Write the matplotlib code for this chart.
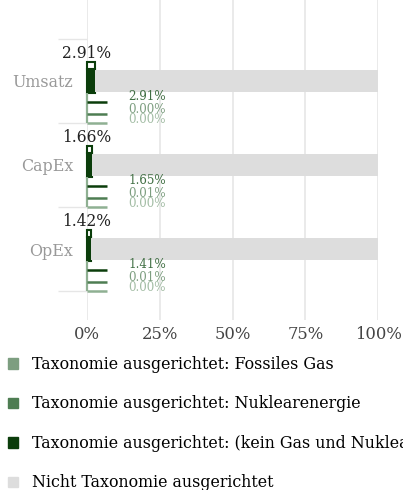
import matplotlib
matplotlib.use("Agg")
import matplotlib.pyplot as plt
from matplotlib.patches import Patch

categories = ["Umsatz", "CapEx", "OpEx"]
gas = [0.00, 0.00, 0.00]
nuk = [0.00, 0.01, 0.01]
kein = [2.91, 1.65, 1.41]
nicht = [97.09, 98.34, 98.58]
total = [2.91, 1.66, 1.42]
xticks = [0, 25, 50, 75, 100]
xticklabels = ["0%", "25%", "50%", "75%", "100%"]
legend_labels = ["Taxonomie ausgerichtet: Fossiles Gas",
                 "Taxonomie ausgerichtet: Nuklearenergie",
                 "Taxonomie ausgerichtet: (kein Gas und Nuklearenergie)",
                 "Nicht Taxonomie ausgerichtet"]

c_gas = "#7d9e80"
c_nuk = "#4e7d52"
c_kein = "#0b3d0b"
c_nicht = "#dddddd"
lab_cols = ["#3f6e42", "#7d9e80", "#a3bda5"]
line_cols = [c_kein, c_nuk, "#8fb092"]

plt.rcParams['font.family'] = ['DejaVu Serif']

fig = plt.figure(figsize=(4.03, 4.90), dpi=100)
ax = fig.add_axes([87/403, 1-320/490, (378-87)/403, 320/490])

ys = list(range(len(categories)))
h = 0.26
left = [0]*3
ax.barh(ys, gas, height=h, left=left, color=c_gas)
left = [a+b for a, b in zip(left, gas)]
ax.barh(ys, nuk, height=h, left=left, color=c_nuk)
left = [a+b for a, b in zip(left, nuk)]
ax.barh(ys, kein, height=0.28, left=left, color=c_kein, edgecolor=c_kein,
        linewidth=1.5, clip_on=False)
left = [a+b for a, b in zip(left, kein)]
ax.barh(ys, nicht, height=h, left=left, color=c_nicht)

# outline box above bar (total)
ax.barh([y - 0.185 for y in ys], total, height=0.09, color="white",
        edgecolor=c_kein, linewidth=1.5, clip_on=False)

for i, y in enumerate(ys):
    ax.text(0, y - 0.225, f"{total[i]:.2f}%", ha="center", va="bottom",
            fontsize=11.2, color="#222222")
    offs = [0.25, 0.39, 0.5]
    ax.plot([0, 0], [y + 0.14, y + offs[2]], color=line_cols[2], lw=1.6,
            solid_capstyle="butt", zorder=3, clip_on=False)
    vals = [kein[i], nuk[i], gas[i]]
    loffs = [0.19, 0.335, 0.46]
    for j in range(3):
        ax.plot([0, 6.9], [y + offs[j], y + offs[j]], color=line_cols[j], lw=1.8,
                solid_capstyle="butt", zorder=3, clip_on=False)
        ax.text(14.1, y + loffs[j], f"{vals[j]:.2f}%", ha="left", va="center",
                fontsize=8.6, color=lab_cols[j])

ax.set_xlim(0, 100)
ax.set_ylim(2.845, -0.964)
ax.set_xticks(xticks)
ax.set_xticklabels(xticklabels, fontsize=11.8, color="#444444")
ax.set_yticks(ys)
ax.set_yticklabels(categories, fontsize=11.4, color="#999999")
ax.set_yticks([-0.5, 0.5, 1.5, 2.5], minor=True)
ax.tick_params(axis="y", which="major", length=0, pad=10)
ax.tick_params(axis="y", which="minor", length=21, color="#e6e6e6", width=1)
ax.tick_params(axis="x", length=0, pad=4)
ax.grid(axis="x", color="#e6e6e6", lw=1.2)
ax.set_axisbelow(True)
for s in ax.spines.values():
    s.set_visible(False)

handles = [Patch(color=c) for c in [c_gas, c_nuk, c_kein, c_nicht]]
fig.legend(handles, legend_labels, loc="upper left", bbox_to_anchor=(0.02, 1-356/490),
           frameon=False, fontsize=11.4, handlelength=0.65, handleheight=0.65,
           labelspacing=1.42, handletextpad=0.85, borderpad=0, borderaxespad=0)

fig.savefig("out.png", dpi=100)
